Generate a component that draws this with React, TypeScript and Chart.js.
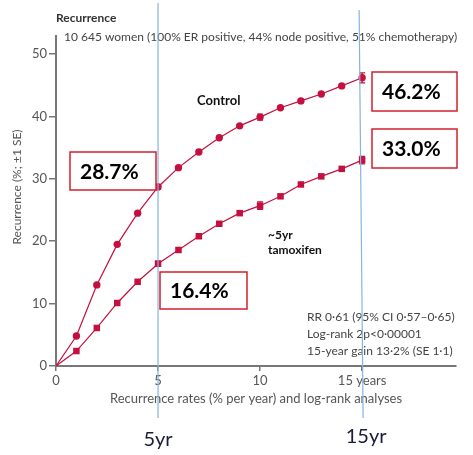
import React, { useEffect, useRef } from "react";
import { Chart, registerables } from "chart.js";

Chart.register(...registerables);

const years = [0, 1, 2, 3, 4, 5, 6, 7, 8, 9, 10, 11, 12, 13, 14, 15];
const controlValues = [0, 4.8, 13.0, 19.5, 24.5, 28.7, 31.8, 34.3, 36.6, 38.5, 39.9, 41.4, 42.5, 43.6, 44.9, 46.2];
const tamoxifenValues = [0, 2.4, 6.1, 10.1, 13.5, 16.4, 18.6, 20.8, 22.8, 24.5, 25.7, 27.2, 29.1, 30.4, 31.6, 33.0];
const controlSE = [null, null, null, null, null, 0.4, null, null, null, null, 0.5, null, null, null, null, 0.8];
const tamoxifenSE = [null, null, null, null, null, 0.4, null, null, null, null, 0.6, null, null, null, null, 0.6];
const xTicks = [0, 5, 10, 15];
const xTickLabels = ["0", "5", "10", "15 years"];
const yTicks = [0, 10, 20, 30, 40, 50];
const statLines = ["RR 0·61 (95% CI 0·57–0·65)", "Log-rank 2p<0·00001", "15-year gain 13·2% (SE 1·1)"];
const callouts = [
  { text: "46.2%", box: [372, 72, 85, 39] },
  { text: "33.0%", box: [372, 129, 85, 39] },
  { text: "28.7%", box: [70, 152, 86, 38] },
  { text: "16.4%", box: [160, 272, 87, 37] },
];

const RED = "#c5103f";
const FONT = "Lato, 'Noto Sans', sans-serif";

const overlayPlugin = {
  id: "overlay",
  afterDatasetsDraw(chart: any) {
    const { ctx } = chart;
    const xs = chart.scales.x;
    const ys = chart.scales.y;
    ctx.save();
    // error bars
    const drawErr = (vals: number[], se: (number | null)[]) => {
      ctx.strokeStyle = RED;
      ctx.lineWidth = 1.2;
      se.forEach((s, i) => {
        if (s == null) return;
        const px = xs.getPixelForValue(years[i]);
        const y1 = ys.getPixelForValue(vals[i] + s);
        const y2 = ys.getPixelForValue(vals[i] - s);
        ctx.beginPath();
        ctx.moveTo(px, y1);
        ctx.lineTo(px, y2);
        ctx.moveTo(px - 3, y1);
        ctx.lineTo(px + 3, y1);
        ctx.moveTo(px - 3, y2);
        ctx.lineTo(px + 3, y2);
        ctx.stroke();
      });
    };
    drawErr(controlValues, controlSE);
    drawErr(tamoxifenValues, tamoxifenSE);

    // y axis title
    ctx.save();
    ctx.translate(17, 187);
    ctx.rotate(-Math.PI / 2);
    ctx.fillStyle = "#555";
    ctx.font = `12px ${FONT}`;
    ctx.textAlign = "center";
    ctx.textBaseline = "middle";
    ctx.fillText("Recurrence (%; ±1 SE)", 0, 0);
    ctx.restore();

    // text annotations inside chart
    ctx.fillStyle = "#111";
    ctx.textBaseline = "middle";
    ctx.textAlign = "left";
    ctx.font = `bold 13px ${FONT}`;
    ctx.fillText("Control", 197, 101);
    ctx.font = `bold 12px ${FONT}`;
    ctx.fillText("~5yr", 268, 235);
    ctx.fillText("tamoxifen", 268, 250);

    ctx.fillStyle = "#444";
    ctx.font = `12px ${FONT}`;
    statLines.forEach((t, i) => ctx.fillText(t, 307, 317 + i * 17));

    ctx.fillStyle = "#333";
    ctx.font = `bold 12px ${FONT}`;
    ctx.fillText("Recurrence", 56, 18);
    ctx.fillStyle = "#444";
    ctx.font = `12px ${FONT}`;
    ctx.fillText("10 645 women (100% ER positive, 44% node positive, 51% chemotherapy)", 64, 37);

    // blue lines
    ctx.strokeStyle = "#86b4dc";
    ctx.lineWidth = 1.2;
    const p5 = xs.getPixelForValue(5);
    const p15 = xs.getPixelForValue(15);
    ctx.beginPath();
    ctx.moveTo(p5, 3);
    ctx.lineTo(p5, 418);
    ctx.moveTo(p15 - 3, 10);
    ctx.lineTo(p15 + 1, 418);
    ctx.stroke();

    ctx.fillStyle = "#1b1b3a";
    ctx.font = `20px ${FONT}`;
    ctx.textAlign = "center";
    ctx.fillText("5yr", p5, 440);
    ctx.fillText("15yr", p15 + 4, 437);

    // callout boxes
    callouts.forEach((c) => {
      const [bx, by, bw, bh] = c.box;
      ctx.fillStyle = "#fff";
      ctx.fillRect(bx, by, bw, bh);
      ctx.strokeStyle = "#d3202c";
      ctx.lineWidth = 1.5;
      ctx.strokeRect(bx, by, bw, bh);
      ctx.fillStyle = "#000";
      ctx.font = `bold 21px ${FONT}`;
      ctx.textAlign = "left";
      ctx.fillText(c.text, bx + 10, by + bh / 2 + 1);
    });
    ctx.restore();
  },
};

export default function App() {
  const ref = useRef<HTMLCanvasElement | null>(null);
  useEffect(() => {
    if (!ref.current) return;
    const chart = new Chart(ref.current, {
      type: "line",
      data: {
        labels: years,
        datasets: [
          {
            label: "Control",
            data: years.map((x, i) => ({ x, y: controlValues[i] })),
            borderColor: RED,
            backgroundColor: RED,
            borderWidth: 1.2,
            pointStyle: "circle",
            pointRadius: years.map((x) => (x === 0 ? 0 : 3.7)),
            pointBorderWidth: 0,
          },
          {
            label: "Tamoxifen",
            data: years.map((x, i) => ({ x, y: tamoxifenValues[i] })),
            borderColor: RED,
            backgroundColor: RED,
            borderWidth: 1.2,
            pointStyle: "rect",
            pointRadius: years.map((x) => (x === 0 ? 0 : 4.6)),
            pointBorderWidth: 0,
          },
        ],
      },
      options: {
        animation: false,
        responsive: false,
        devicePixelRatio: 1,
        layout: { padding: { left: 0, right: 17, top: 36, bottom: 0 } },
        plugins: { legend: { display: false }, tooltip: { enabled: false } },
        scales: {
          x: {
            type: "linear",
            min: 0,
            max: 19.6,
            afterBuildTicks: (s: any) => {
              s.ticks = xTicks.map((v) => ({ value: v }));
            },
            afterFit: (s: any) => {
              s.height = 89;
            },
            ticks: {
              autoSkip: false,
              maxRotation: 0,
              padding: 2,
              color: "#555",
              font: { family: FONT, size: 13 },
              callback: (v: any) => xTickLabels[xTicks.indexOf(Number(v))] ?? "",
            },
            grid: { drawOnChartArea: false, drawTicks: true, tickLength: 5, color: "#777", lineWidth: 1.5 },
            border: { display: true, color: "#777", width: 2 },
            title: {
              display: true,
              text: "Recurrence rates (% per year) and log-rank analyses",
              color: "#555",
              font: { family: FONT, size: 13 },
              padding: { top: 0, bottom: 48 },
            },
          },
          y: {
            type: "linear",
            min: 0,
            max: 52.9,
            afterBuildTicks: (s: any) => {
              s.ticks = yTicks.map((v) => ({ value: v }));
            },
            afterFit: (s: any) => {
              s.width = 56;
            },
            ticks: {
              padding: 2,
              color: "#555",
              font: { family: FONT, size: 13 },
            },
            grid: { drawOnChartArea: false, drawTicks: true, tickLength: 7, color: "#777", lineWidth: 1.5 },
            border: { display: true, color: "#777", width: 2 },
            title: { display: false },
          },
        },
      },
      plugins: [overlayPlugin],
    } as any);
    return () => chart.destroy();
  }, []);
  return (
    <div style={{ position: "absolute", left: 0, top: 0, width: 473, height: 455, background: "#fff" }}>
      <canvas ref={ref} width={473} height={455} />
    </div>
  );
}
